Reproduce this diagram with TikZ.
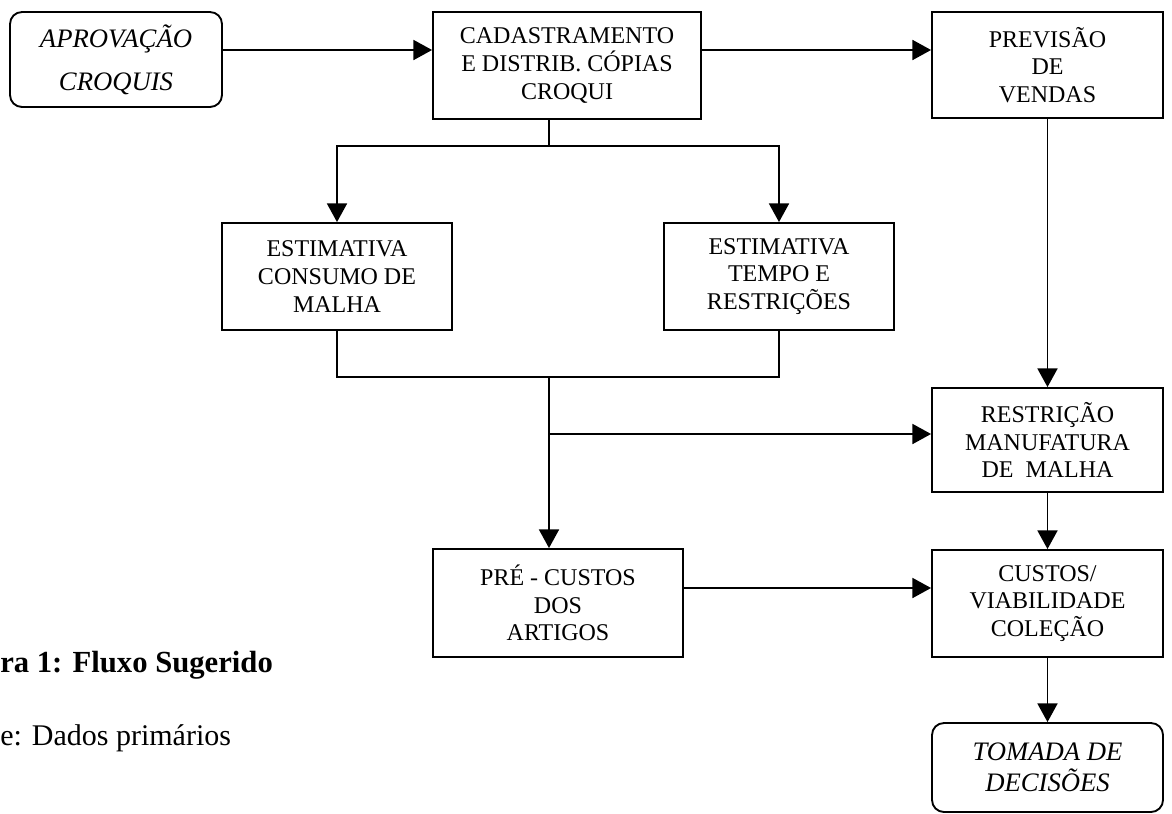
\documentclass[tikz,border=0pt]{standalone}
\usepackage{fontspec}
\setmainfont{Liberation Serif}
\usetikzlibrary{arrows.meta}
\begin{document}
\begin{tikzpicture}[x=0.75pt,y=-0.75pt,
  box/.style={draw,line width=1.4pt,align=center,inner sep=0pt,font=\fontsize{18pt}{20.8pt}\selectfont},
  rbox/.style={box,rounded corners=9pt},
  ital/.style={font=\fontsize{20pt}{32pt}\selectfont\itshape},
  conn/.style={line width=1.4pt},
  arr/.style={conn,-{Triangle[length=14pt,width=15pt]}},
  captxt/.style={anchor=base west,inner sep=0pt,font=\fontsize{22.5pt}{27pt}\selectfont}]
\useasboundingbox (0,0) rectangle (1172,814);

\node[rbox,ital,minimum width=159pt,minimum height=71.25pt] (apr) at (116,59.5) {APROVAÇÃO\\CROQUIS};
\node[box,minimum width=201pt,minimum height=80.25pt] (cad) at (567,65.5) {CADASTRAMENTO\\E DISTRIB. CÓPIAS\\CROQUI};
\node[box,minimum width=173.25pt,minimum height=79.5pt] (prev) at (1047.5,65) {PREVISÃO\\DE\\VENDAS};
\node[box,minimum width=172.5pt,minimum height=80.25pt] (est1) at (337,276.5) {ESTIMATIVA\\CONSUMO DE\\MALHA};
\node[box,minimum width=172.5pt,minimum height=80.25pt] (est2) at (779,276.5) {ESTIMATIVA\\TEMPO E\\RESTRIÇÕES};
\node[box,minimum width=173.25pt,minimum height=78pt] (rest) at (1047.5,440) {RESTRIÇÃO\\MANUFATURA\\DE~~MALHA};
\node[box,minimum width=187.5pt,minimum height=81pt] (pre) at (558,603) {PRÉ - CUSTOS\\DOS\\ARTIGOS};
\node[box,minimum width=173.25pt,minimum height=80.25pt] (cust) at (1047.5,603.5) {CUSTOS/\\VIABILIDADE\\COLEÇÃO};
\node[rbox,minimum width=173.25pt,minimum height=66.75pt,font=\fontsize{20pt}{23.5pt}\selectfont\itshape] (tom) at (1047.5,767.5) {TOMADA DE\\DECISÕES};

\node[captxt,font=\fontsize{23pt}{27pt}\selectfont\bfseries] (cap) at (0,672) {ra 1: Fluxo Sugerido};
\node[captxt] (src) at (0,745) {e: Dados primários};

\coordinate (y50) at (0,50);
\coordinate (y588) at (0,588);
\coordinate (j1) at (549,146);
\coordinate (j2) at (549,377);
\coordinate (j3) at (549,434);

\draw[arr] (apr.east |- y50) -- (cad.west |- y50);
\draw[arr] (cad.east |- y50) -- (prev.west |- y50);
\draw[conn] (cad.south -| j1) -- (j1);
\draw[arr] (j1) -| (est1.north);
\draw[arr] (j1) -| (est2.north);
\draw[conn] (est1.south) |- (j2);
\draw[conn] (est2.south) |- (j2);
\draw[arr] (j2) -- (pre.north -| j2);
\draw[arr] (j3) -- (rest.west |- j3);
\draw[arr] (prev.south) -- (rest.north);
\draw[arr] (rest.south) -- (cust.north);
\draw[arr] (pre.east |- y588) -- (cust.west |- y588);
\draw[arr] (cust.south) -- (tom.north);
\end{tikzpicture}
\end{document}
